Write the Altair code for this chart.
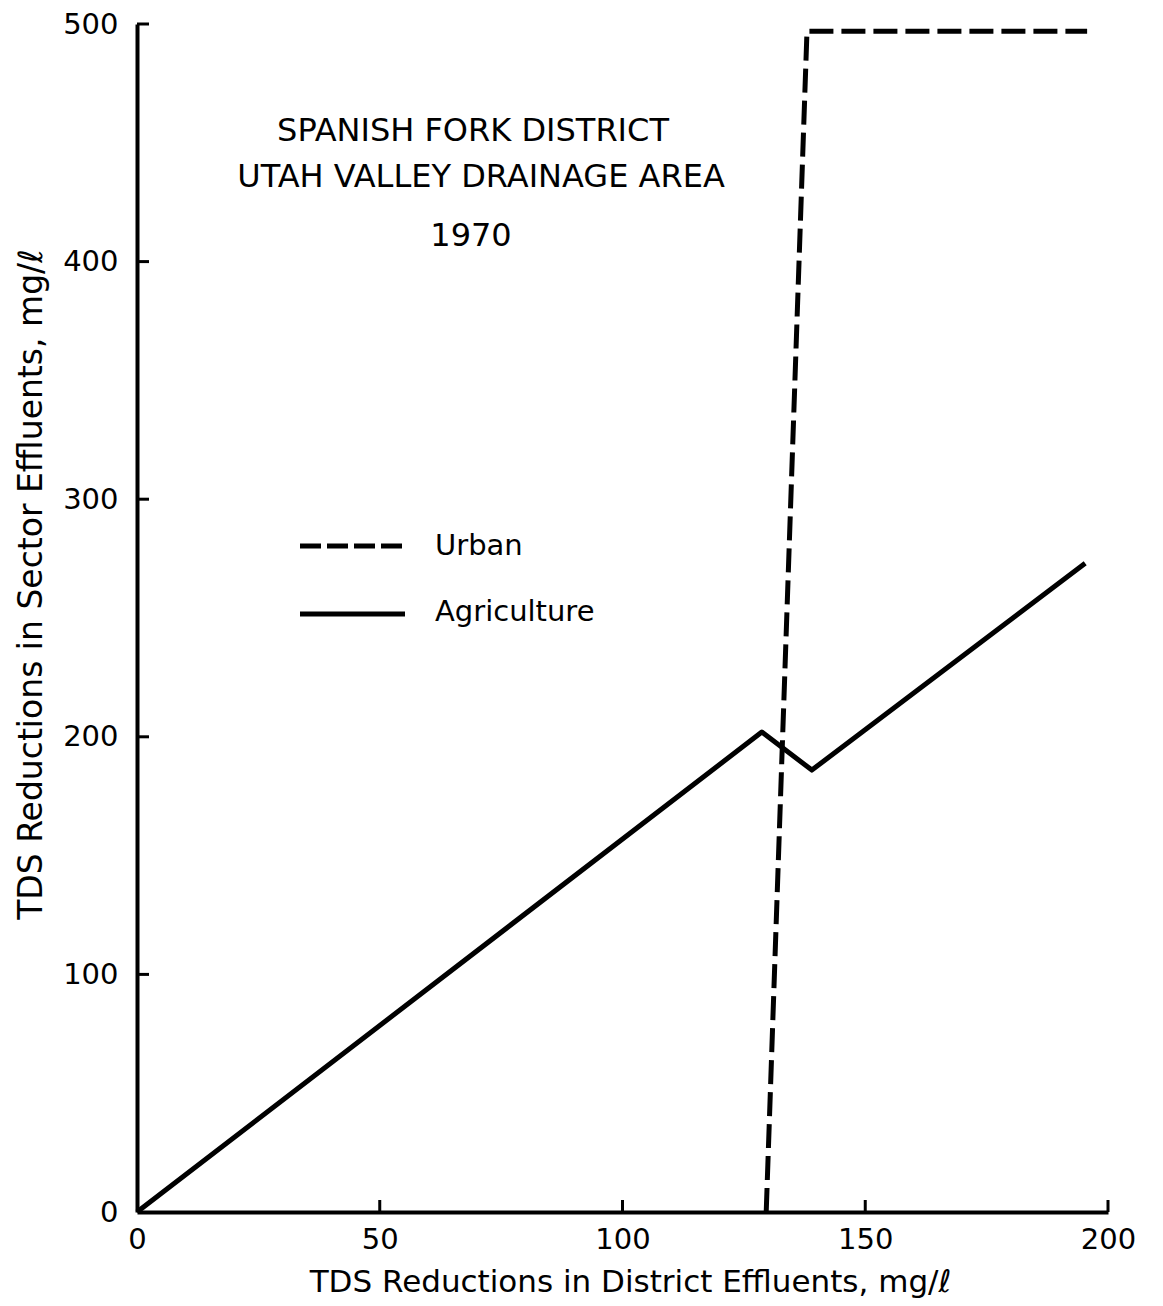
import altair as alt
import pandas as pd

# ---- data ----
agri_x = [0, 128.7, 139.0, 195.3]
agri_y = [0, 202, 186, 273]
urban_x = [129.6, 138.0, 195.7]
urban_y = [0, 497, 497]

x_ticks = [50, 100, 150, 200]
y_ticks = [100, 200, 300, 400, 500]

title_lines = ["SPANISH FORK DISTRICT", "UTAH VALLEY DRAINAGE AREA", "1970"]
legend_names = ["Urban", "Agriculture"]

x_title = "TDS Reductions in District Effluents, mg/ℓ"
y_title = "TDS Reductions in Sector Effluents, mg/ℓ"

FONT = "DejaVu Sans"
W, H = 971, 1188

agri = pd.DataFrame({"x": agri_x, "y": agri_y, "i": range(len(agri_x))})
urban = pd.DataFrame({"x": urban_x, "y": urban_y, "i": range(len(urban_x))})
xt = pd.DataFrame({"v": x_ticks})
yt = pd.DataFrame({"v": y_ticks})

xs = alt.Scale(domain=[0, 200], nice=False)
ys = alt.Scale(domain=[0, 500], nice=False)

xaxis = alt.Axis(values=[0, 50, 100, 150, 200], grid=False, ticks=False,
                 domainColor="black", domainWidth=4, labelFont=FONT,
                 labelFontSize=29, labelColor="black", labelPadding=13,
                 title=x_title, titleFont=FONT, titleFontSize=31,
                 titleFontWeight="normal", titleColor="black",
                 titleX=493, titleY=70, titleAlign="center",
                 titleBaseline="middle", labelFlush=False)
yaxis = alt.Axis(values=[0, 100, 200, 300, 400, 500], grid=False, ticks=False,
                 domainColor="black", domainWidth=4, labelFont=FONT,
                 labelFontSize=29, labelColor="black", labelPadding=19,
                 title=y_title, titleFont=FONT, titleFontSize=33,
                 titleFontWeight="normal", titleColor="black",
                 titleAngle=270, titleX=-106, titleY=560,
                 titleAlign="center", titleBaseline="middle", labelFlush=False)

agri_line = alt.Chart(agri).mark_line(color="black", strokeWidth=5,
                                      strokeJoin="round").encode(
    x=alt.X("x:Q", scale=xs, axis=xaxis),
    y=alt.Y("y:Q", scale=ys, axis=yaxis),
    order="i:O",
)

urban_line = alt.Chart(urban).mark_line(color="black", strokeWidth=5,
                                        strokeDash=[24, 8],
                                        strokeJoin="round").encode(
    x=alt.X("x:Q", scale=xs),
    y=alt.Y("y:Q", scale=ys),
    order="i:O",
)

xtick_marks = alt.Chart(xt).mark_rule(color="black", strokeWidth=3).encode(
    x=alt.X("v:Q", scale=xs),
    y=alt.value(H),
    y2=alt.value(H - 12),
)
ytick_marks = alt.Chart(yt).mark_rule(color="black", strokeWidth=3).encode(
    y=alt.Y("v:Q", scale=ys),
    x=alt.value(0),
    x2=alt.value(12),
)

# annotation block
ann_df = pd.DataFrame({"t": title_lines, "px": [336, 344, 334], "py": [107, 153, 212]})
ann = alt.Chart(ann_df).mark_text(font=FONT, fontSize=32, color="black",
                                  baseline="middle", align="center").encode(
    x=alt.X("px:Q", scale=None),
    y=alt.Y("py:Q", scale=None),
    text="t:N",
)

# manual legend
leg_urban_line = alt.Chart(pd.DataFrame({"a": [0]})).mark_rule(
    color="black", strokeWidth=5, strokeDash=[21, 6]).encode(
    x=alt.value(163), x2=alt.value(268), y=alt.value(522))
leg_agri_line = alt.Chart(pd.DataFrame({"a": [0]})).mark_rule(
    color="black", strokeWidth=5).encode(
    x=alt.value(163), x2=alt.value(268), y=alt.value(590))
leg_txt = alt.Chart(pd.DataFrame({"t": legend_names, "py": [522, 588]})).mark_text(
    font=FONT, fontSize=29, color="black", align="left", baseline="middle").encode(
    x=alt.value(298),
    y=alt.Y("py:Q", scale=None),
    text="t:N",
)

chart = alt.layer(
    agri_line, urban_line, xtick_marks, ytick_marks, ann,
    leg_urban_line, leg_agri_line, leg_txt,
).properties(
    width=W, height=H,
    autosize=alt.AutoSizeParams(type="none"),
    padding={"left": 129, "top": 16, "right": 40, "bottom": 90},
).configure(background="white", view=alt.ViewConfig(stroke=None))

chart.save("out.html", embed_options={"renderer": "svg", "actions": False})
